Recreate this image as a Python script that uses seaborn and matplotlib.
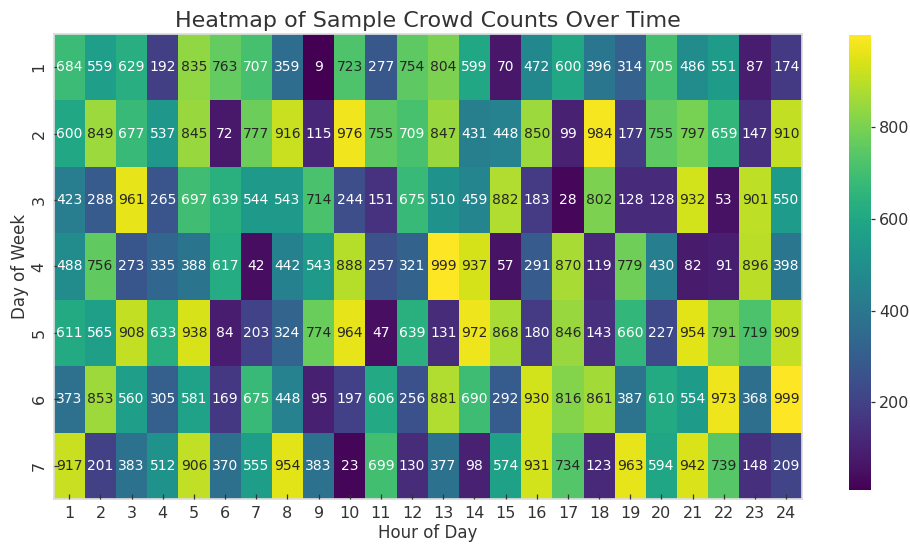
import numpy as np
import pandas as pd
import matplotlib
matplotlib.use("Agg")
import matplotlib.pyplot as plt
import seaborn as sns

hours = list(range(1, 25))
days = list(range(1, 8))

day1 = [684, 559, 629, 192, 835, 763, 707, 359, 9, 723, 277, 754, 804, 599, 70, 472, 600, 396, 314, 705, 486, 551, 87, 174]
day2 = [600, 849, 677, 537, 845, 72, 777, 916, 115, 976, 755, 709, 847, 431, 448, 850, 99, 984, 177, 755, 797, 659, 147, 910]
day3 = [423, 288, 961, 265, 697, 639, 544, 543, 714, 244, 151, 675, 510, 459, 882, 183, 28, 802, 128, 128, 932, 53, 901, 550]
day4 = [488, 756, 273, 335, 388, 617, 42, 442, 543, 888, 257, 321, 999, 937, 57, 291, 870, 119, 779, 430, 82, 91, 896, 398]
day5 = [611, 565, 908, 633, 938, 84, 203, 324, 774, 964, 47, 639, 131, 972, 868, 180, 846, 143, 660, 227, 954, 791, 719, 909]
day6 = [373, 853, 560, 305, 581, 169, 675, 448, 95, 197, 606, 256, 881, 690, 292, 930, 816, 861, 387, 610, 554, 973, 368, 999]
day7 = [917, 201, 383, 512, 906, 370, 555, 954, 383, 23, 699, 130, 377, 98, 574, 931, 734, 123, 963, 594, 942, 739, 148, 209]

df = pd.DataFrame([day1, day2, day3, day4, day5, day6, day7], index=days, columns=hours)

sns.set_theme(style="white")
plt.rcParams['font.family'] = ['DejaVu Sans']

fig = plt.figure(figsize=(9.1, 5.44), dpi=100)
ax = fig.add_axes([0.059, 0.0827, 0.822, 0.855])
cax = fig.add_axes([0.933, 0.099, 0.024, 0.836])

sns.heatmap(df, ax=ax, cbar_ax=cax, cmap="viridis", annot=True, fmt="d",
            annot_kws={"fontsize": 10})

ax.set_axisbelow(False)
ax.set_title("Heatmap of Sample Crowd Counts Over Time", fontsize=16, color="#333333", pad=5)
ax.set_xlabel("Hour of Day", fontsize=12, color="#333333", labelpad=2)
ax.set_ylabel("Day of Week", fontsize=12, color="#333333", labelpad=2)
ax.tick_params(axis="both", direction="in", length=3.5, width=0.9, colors="#333333",
               labelsize=11.5, pad=5, bottom=True, left=True)
ax.tick_params(axis="y", rotation=90)
for s in ax.spines.values():
    s.set_visible(True)
    s.set_color("#dddddd")
cbar = ax.collections[0].colorbar
cbar.set_ticks([200, 400, 600, 800])
cbar.ax.tick_params(length=3, width=0.9, colors="#333333", labelsize=11.5, pad=3, right=True)
cbar.outline.set_edgecolor("#dddddd")

fig.savefig("out.png", dpi=100)
